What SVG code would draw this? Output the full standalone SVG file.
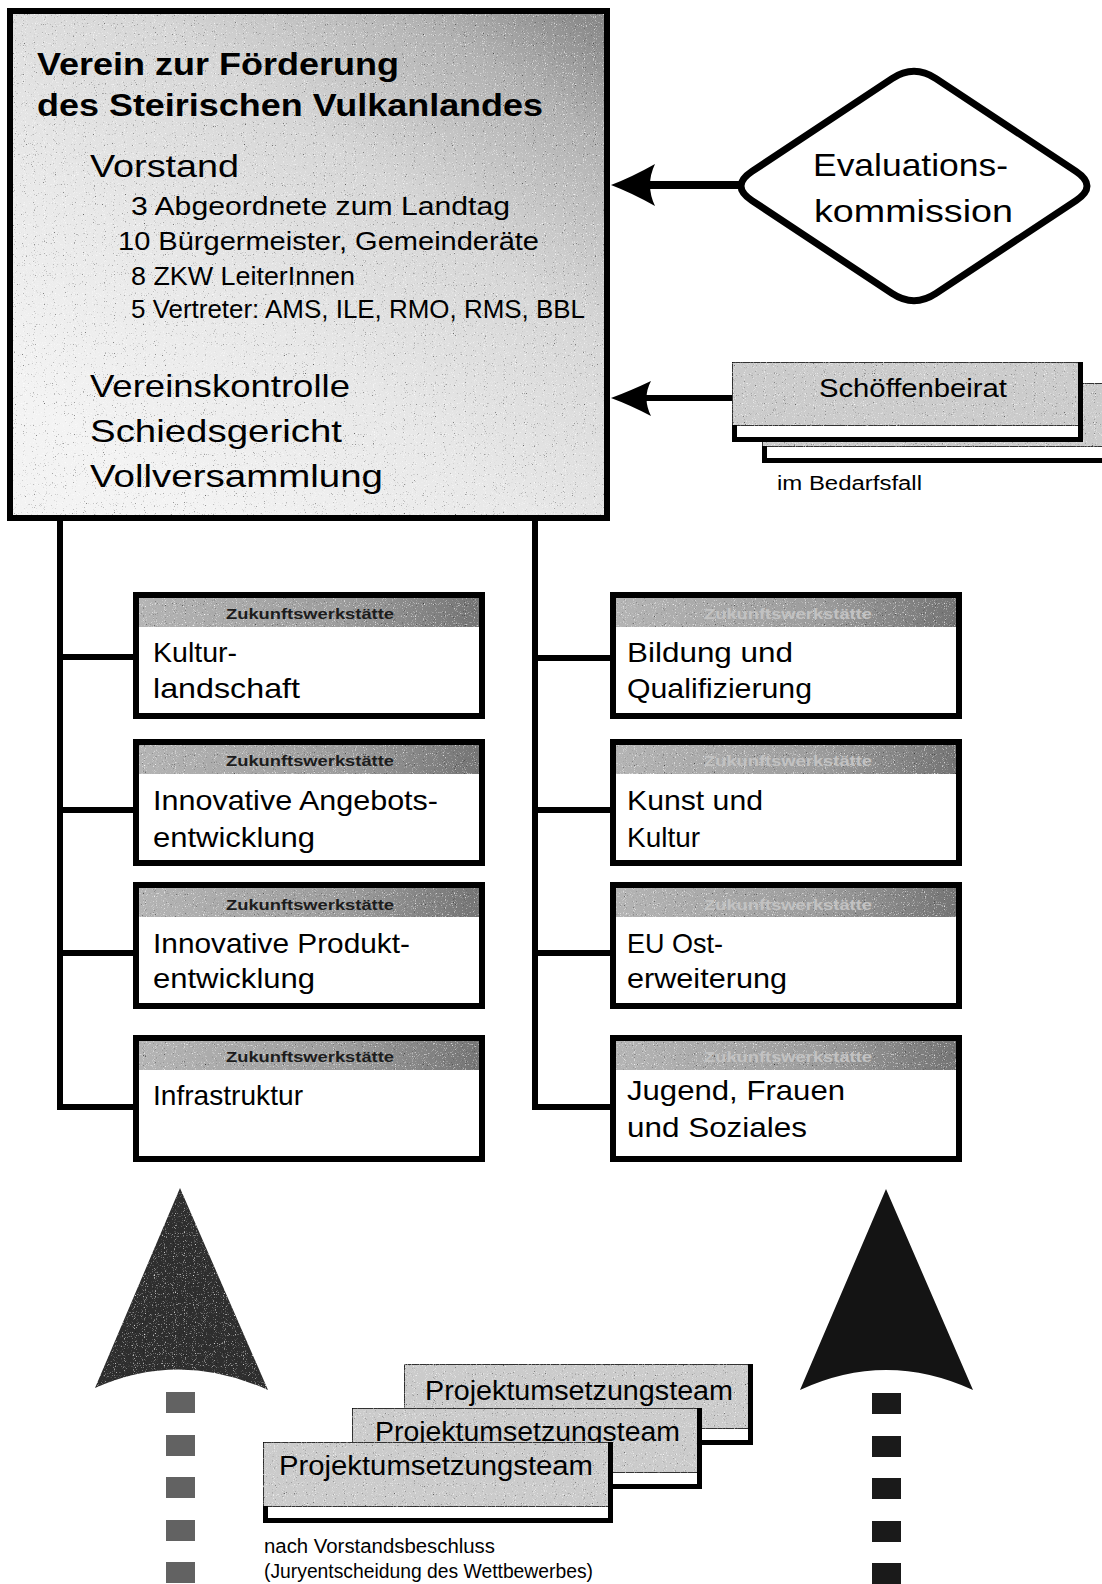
<svg xmlns="http://www.w3.org/2000/svg" width="1102" height="1584" viewBox="0 0 1102 1584">
<style>
text{font-family:"Liberation Sans",Arial,sans-serif;fill:#000}
.title{font-size:31px;font-weight:bold}
.big{font-size:32px}
.mem{font-size:25px}
.lbl{font-size:28px}
.zwh{font-size:15px;font-weight:bold;text-anchor:middle}
.zwhl{fill:#1c1c1c}
.zwhr{fill:#c2c2c2}
.small{font-size:20px}
.card{font-size:27px}
.zwbody{fill:#fff;stroke:#000;stroke-width:6}
.zwhead{fill:url(#headGrad)}
.line{stroke:#000;stroke-width:6;fill:none}
.cardgray{fill:#cbcbcb;stroke:#000;stroke-width:1.5}
.cardwhite{fill:#fff}
.cardthick{fill:none;stroke:#000;stroke-width:5}
</style>
<defs>
<linearGradient id="mainGrad" x1="0.95" y1="0" x2="0.2" y2="0.9">
<stop offset="0" stop-color="#8a8a8a"/>
<stop offset="0.15" stop-color="#b2b2b2"/>
<stop offset="0.4" stop-color="#d6d6d6"/>
<stop offset="0.7" stop-color="#e8e8e8"/>
<stop offset="1" stop-color="#f3f3f3"/>
</linearGradient>
<linearGradient id="headGrad" x1="0" y1="0" x2="1" y2="0">
<stop offset="0" stop-color="#b4b4b4"/>
<stop offset="0.6" stop-color="#9c9c9c"/>
<stop offset="1" stop-color="#747474"/>
</linearGradient>
<filter id="speckle" x="0" y="0" width="1" height="1" color-interpolation-filters="sRGB">
<feTurbulence type="fractalNoise" baseFrequency="0.9" numOctaves="1" seed="7" result="n"/>
<feColorMatrix in="n" type="matrix" values="0 0 0 0 0  0 0 0 0 0  0 0 0 0 0  3 0 0 0 -1.95" result="dark"/>
<feColorMatrix in="n" type="matrix" values="0 0 0 0 1  0 0 0 0 1  0 0 0 0 1  0 -3.5 0 0 1.45" result="light"/>
<feMerge result="m"><feMergeNode in="dark"/><feMergeNode in="light"/></feMerge>
<feComposite in="m" in2="SourceGraphic" operator="atop"/>
</filter>
</defs>

<g id="connectors">
<line x1="650" y1="185" x2="745" y2="185" stroke="#000" stroke-width="8"/>
<path d="M611,185 Q632,177 655,164 Q645,185 655,206 Q632,193 611,185 Z" fill="#000"/>
<line x1="645" y1="398" x2="733" y2="398" stroke="#000" stroke-width="6"/>
<path d="M611,398 Q630,391 651,381 Q642,398 651,416 Q630,405 611,398 Z" fill="#000"/>
<path class="line" d="M60,521 V1110 M57,657 H136 M57,810 H136 M57,953 H136 M57,1107 H136"/>
<path class="line" d="M535,521 V1110 M532,658 H613 M532,810 H613 M532,953 H613 M532,1107 H613"/>
<path d="M180,1188 L268,1390 Q180,1350 95,1388 Z" fill="#2e2e2e" filter="url(#speckle)"/>
<path d="M886,1189 L973,1390 Q886,1350 800,1390 Z" fill="#141414"/>
<g fill="#626262">
<rect x="166" y="1392" width="29" height="21"/>
<rect x="166" y="1435" width="29" height="21"/>
<rect x="166" y="1477" width="29" height="21"/>
<rect x="166" y="1520" width="29" height="21"/>
<rect x="166" y="1562" width="29" height="21"/>
</g>
<g fill="#1a1a1a">
<rect x="872" y="1393" width="29" height="21"/>
<rect x="872" y="1436" width="29" height="21"/>
<rect x="872" y="1478" width="29" height="21"/>
<rect x="872" y="1521" width="29" height="21"/>
<rect x="872" y="1563" width="29" height="21"/>
</g>
</g>

<g id="verein">
<rect x="10" y="11" width="597" height="507" fill="url(#mainGrad)" filter="url(#speckle)"/>
<rect x="10" y="11" width="597" height="507" fill="none" stroke="#000" stroke-width="6"/>
<text class="title" x="37" y="75" textLength="362" lengthAdjust="spacingAndGlyphs">Verein zur Förderung</text>
<text class="title" x="37" y="116" textLength="506" lengthAdjust="spacingAndGlyphs">des Steirischen Vulkanlandes</text>
<text class="big" x="90" y="177" textLength="149" lengthAdjust="spacingAndGlyphs">Vorstand</text>
<text class="mem" x="131" y="215" textLength="379" lengthAdjust="spacingAndGlyphs">3 Abgeordnete zum Landtag</text>
<text class="mem" x="118" y="250" textLength="421" lengthAdjust="spacingAndGlyphs">10 Bürgermeister, Gemeinderäte</text>
<text class="mem" x="131" y="285" textLength="224" lengthAdjust="spacingAndGlyphs">8 ZKW LeiterInnen</text>
<text class="mem" x="131" y="318" textLength="454" lengthAdjust="spacingAndGlyphs">5 Vertreter: AMS, ILE, RMO, RMS, BBL</text>
<text class="big" x="90" y="397" textLength="260" lengthAdjust="spacingAndGlyphs">Vereinskontrolle</text>
<text class="big" x="90" y="442" textLength="252" lengthAdjust="spacingAndGlyphs">Schiedsgericht</text>
<text class="big" x="90" y="487" textLength="293" lengthAdjust="spacingAndGlyphs">Vollversammlung</text>
</g>

<g id="evaluationskommission">
<path d="M892,78.6 Q914,64 936,78.6 L1076,171.4 Q1098,186 1076,200.6 L936,293.4 Q914,308 892,293.4 L752,200.6 Q730,186 752,171.4 Z" fill="#fff" stroke="#000" stroke-width="7" stroke-linejoin="round"/>
<text class="big" x="813" y="176" textLength="195" lengthAdjust="spacingAndGlyphs">Evaluations-</text>
<text class="big" x="814" y="222" textLength="199" lengthAdjust="spacingAndGlyphs">kommission</text>
</g>

<g id="schoeffenbeirat">
<rect class="cardgray" x="762" y="383" width="360" height="64" filter="url(#speckle)"/>
<rect class="cardwhite" x="762" y="447" width="360" height="16"/>
<path class="cardthick" d="M764.5,446 V460.5 H1110"/>
<rect class="cardgray" x="732" y="362" width="351" height="64" filter="url(#speckle)"/>
<rect class="cardwhite" x="732" y="426" width="351" height="16"/>
<path class="cardthick" d="M734.5,425 V439.5 H1080.5 V362"/>
<text x="819" y="397" font-size="25" textLength="188" lengthAdjust="spacingAndGlyphs">Schöffenbeirat</text>
<text class="small" x="777" y="490" textLength="145" lengthAdjust="spacingAndGlyphs">im Bedarfsfall</text>
</g>

<g id="zw-kulturlandschaft">
<rect class="zwbody" x="136" y="595" width="346" height="121"/>
<rect class="zwhead" x="139" y="598" width="340" height="29" filter="url(#speckle)"/>
<text class="zwh zwhl" x="310" y="619" textLength="168" lengthAdjust="spacingAndGlyphs">Zukunftswerkstätte</text>
<text class="lbl" x="153" y="662" textLength="84" lengthAdjust="spacingAndGlyphs">Kultur-</text>
<text class="lbl" x="153" y="698" textLength="147" lengthAdjust="spacingAndGlyphs">landschaft</text>
</g>
<g id="zw-angebotsentwicklung">
<rect class="zwbody" x="136" y="742" width="346" height="121"/>
<rect class="zwhead" x="139" y="745" width="340" height="29" filter="url(#speckle)"/>
<text class="zwh zwhl" x="310" y="766" textLength="168" lengthAdjust="spacingAndGlyphs">Zukunftswerkstätte</text>
<text class="lbl" x="153" y="810" textLength="285" lengthAdjust="spacingAndGlyphs">Innovative Angebots-</text>
<text class="lbl" x="153" y="847" textLength="162" lengthAdjust="spacingAndGlyphs">entwicklung</text>
</g>
<g id="zw-produktentwicklung">
<rect class="zwbody" x="136" y="885" width="346" height="121"/>
<rect class="zwhead" x="139" y="888" width="340" height="29" filter="url(#speckle)"/>
<text class="zwh zwhl" x="310" y="910" textLength="168" lengthAdjust="spacingAndGlyphs">Zukunftswerkstätte</text>
<text class="lbl" x="153" y="953" textLength="257" lengthAdjust="spacingAndGlyphs">Innovative Produkt-</text>
<text class="lbl" x="153" y="988" textLength="162" lengthAdjust="spacingAndGlyphs">entwicklung</text>
</g>
<g id="zw-infrastruktur">
<rect class="zwbody" x="136" y="1038" width="346" height="121"/>
<rect class="zwhead" x="139" y="1041" width="340" height="29" filter="url(#speckle)"/>
<text class="zwh zwhl" x="310" y="1062" textLength="168" lengthAdjust="spacingAndGlyphs">Zukunftswerkstätte</text>
<text class="lbl" x="153" y="1105" textLength="150" lengthAdjust="spacingAndGlyphs">Infrastruktur</text>
</g>

<g id="zw-bildung">
<rect class="zwbody" x="613" y="595" width="346" height="121"/>
<rect class="zwhead" x="616" y="598" width="340" height="29" filter="url(#speckle)"/>
<text class="zwh zwhr" x="788" y="619" textLength="168" lengthAdjust="spacingAndGlyphs">Zukunftswerkstätte</text>
<text class="lbl" x="627" y="662" textLength="166" lengthAdjust="spacingAndGlyphs">Bildung und</text>
<text class="lbl" x="627" y="698" textLength="185" lengthAdjust="spacingAndGlyphs">Qualifizierung</text>
</g>
<g id="zw-kunst">
<rect class="zwbody" x="613" y="742" width="346" height="121"/>
<rect class="zwhead" x="616" y="745" width="340" height="29" filter="url(#speckle)"/>
<text class="zwh zwhr" x="788" y="766" textLength="168" lengthAdjust="spacingAndGlyphs">Zukunftswerkstätte</text>
<text class="lbl" x="627" y="810" textLength="136" lengthAdjust="spacingAndGlyphs">Kunst und</text>
<text class="lbl" x="627" y="847" textLength="73" lengthAdjust="spacingAndGlyphs">Kultur</text>
</g>
<g id="zw-eu">
<rect class="zwbody" x="613" y="885" width="346" height="121"/>
<rect class="zwhead" x="616" y="888" width="340" height="29" filter="url(#speckle)"/>
<text class="zwh zwhr" x="788" y="910" textLength="168" lengthAdjust="spacingAndGlyphs">Zukunftswerkstätte</text>
<text class="lbl" x="627" y="953" textLength="96" lengthAdjust="spacingAndGlyphs">EU Ost-</text>
<text class="lbl" x="627" y="988" textLength="160" lengthAdjust="spacingAndGlyphs">erweiterung</text>
</g>
<g id="zw-jugend">
<rect class="zwbody" x="613" y="1038" width="346" height="121"/>
<rect class="zwhead" x="616" y="1041" width="340" height="29" filter="url(#speckle)"/>
<text class="zwh zwhr" x="788" y="1062" textLength="168" lengthAdjust="spacingAndGlyphs">Zukunftswerkstätte</text>
<text class="lbl" x="627" y="1100" textLength="218" lengthAdjust="spacingAndGlyphs">Jugend, Frauen</text>
<text class="lbl" x="627" y="1137" textLength="180" lengthAdjust="spacingAndGlyphs">und Soziales</text>
</g>

<g id="projektteams">
<rect class="cardgray" x="404" y="1364" width="349" height="65" filter="url(#speckle)"/>
<rect class="cardwhite" x="404" y="1429" width="349" height="16"/>
<path class="cardthick" d="M406.5,1428 V1442.5 H750.5 V1364"/>
<text class="card" x="425" y="1400" textLength="308" lengthAdjust="spacingAndGlyphs">Projektumsetzungsteam</text>
<rect class="cardgray" x="352" y="1408" width="350" height="65" filter="url(#speckle)"/>
<rect class="cardwhite" x="352" y="1473" width="350" height="16"/>
<path class="cardthick" d="M354.5,1472 V1486.5 H699.5 V1408"/>
<text class="card" x="375" y="1441" textLength="305" lengthAdjust="spacingAndGlyphs">Projektumsetzungsteam</text>
<rect class="cardgray" x="263" y="1442" width="350" height="65" filter="url(#speckle)"/>
<rect class="cardwhite" x="263" y="1507" width="350" height="16"/>
<path class="cardthick" d="M265.5,1506 V1520.5 H610.5 V1442"/>
<text class="card" x="279" y="1475" textLength="314" lengthAdjust="spacingAndGlyphs">Projektumsetzungsteam</text>
<text class="small" x="264" y="1553" font-size="21" textLength="231" lengthAdjust="spacingAndGlyphs">nach Vorstandsbeschluss</text>
<text class="small" x="264" y="1578" font-size="21" textLength="329" lengthAdjust="spacingAndGlyphs">(Juryentscheidung des Wettbewerbes)</text>
</g>
</svg>
